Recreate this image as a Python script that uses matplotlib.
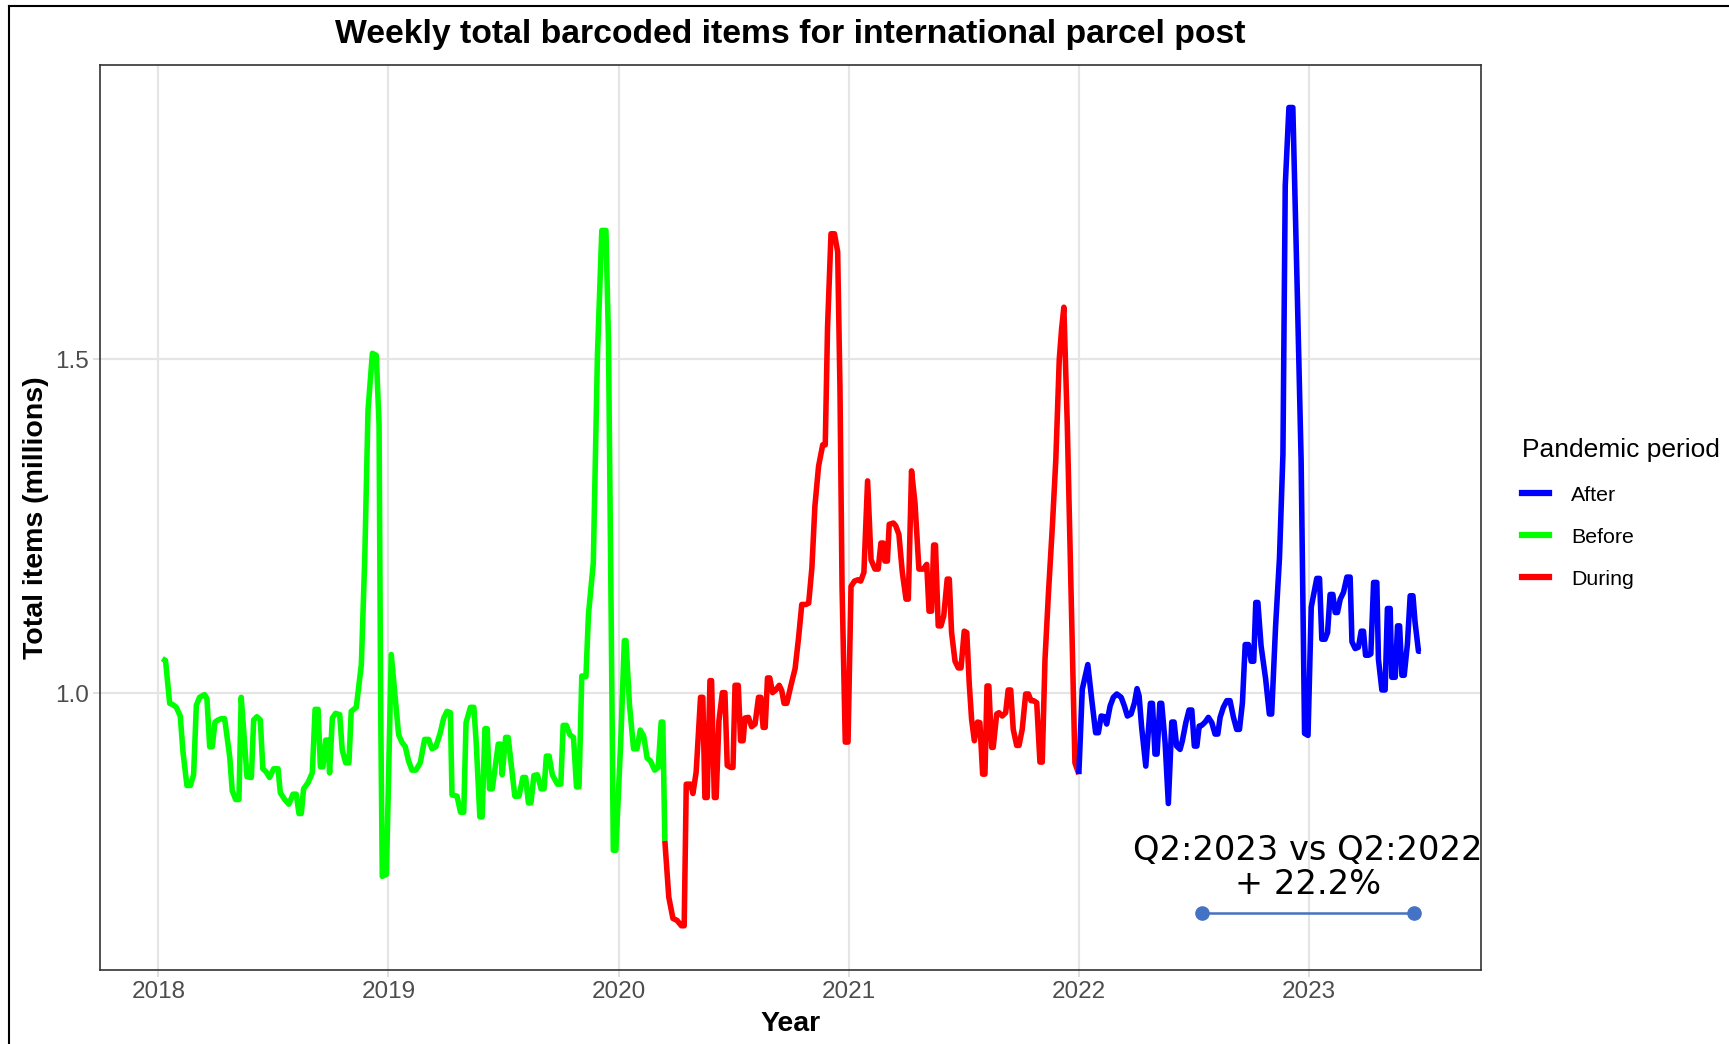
import matplotlib
matplotlib.use("Agg")
import matplotlib.pyplot as plt
from matplotlib.lines import Line2D

# weekly barcoded items (millions), x as decimal year
before_year = [
    2018.017, 2018.031, 2018.049, 2018.063, 2018.078, 2018.095, 2018.107, 2018.124, 2018.139, 2018.153,
    2018.165, 2018.179, 2018.201, 2018.211, 2018.223, 2018.234, 2018.246, 2018.259, 2018.273, 2018.288,
    2018.310, 2018.321, 2018.336, 2018.350, 2018.360, 2018.375, 2018.385, 2018.404, 2018.414, 2018.428,
    2018.443, 2018.454, 2018.469, 2018.483, 2018.501, 2018.520, 2018.530, 2018.549, 2018.567, 2018.585,
    2018.599, 2018.611, 2018.621, 2018.631, 2018.650, 2018.669, 2018.681, 2018.694, 2018.704, 2018.715,
    2018.727, 2018.737, 2018.744, 2018.756, 2018.770, 2018.788, 2018.799, 2018.814, 2018.828, 2018.838,
    2018.860, 2018.882, 2018.897, 2018.911, 2018.930, 2018.947, 2018.959, 2018.966, 2018.973, 2018.991,
    2019.012, 2019.026, 2019.044, 2019.058, 2019.073, 2019.087, 2019.102, 2019.119, 2019.138, 2019.157,
    2019.174, 2019.189, 2019.206, 2019.225, 2019.240, 2019.254, 2019.269, 2019.276, 2019.298, 2019.313,
    2019.327, 2019.337, 2019.356, 2019.371, 2019.381, 2019.397, 2019.407, 2019.419, 2019.429, 2019.439,
    2019.451, 2019.477, 2019.487, 2019.494, 2019.509, 2019.520, 2019.549, 2019.567, 2019.584, 2019.596,
    2019.608, 2019.619, 2019.632, 2019.647, 2019.663, 2019.676, 2019.686, 2019.698, 2019.712, 2019.734,
    2019.749, 2019.759, 2019.773, 2019.788, 2019.804, 2019.817, 2019.828, 2019.840, 2019.858, 2019.869,
    2019.890, 2019.908, 2019.927, 2019.945, 2019.956, 2019.968, 2019.977, 2019.988, 2020.010, 2020.025,
    2020.032, 2020.047, 2020.065, 2020.080, 2020.094, 2020.109, 2020.124, 2020.138, 2020.157, 2020.172,
    2020.185, 2020.192,
]
before_items = [
    1.052, 1.049, 0.985, 0.983, 0.979, 0.966, 0.912, 0.862, 0.862, 0.878,
    0.982, 0.994, 0.998, 0.992, 0.920, 0.920, 0.957, 0.960, 0.962, 0.962,
    0.905, 0.854, 0.841, 0.841, 0.994, 0.924, 0.875, 0.874, 0.960, 0.965,
    0.960, 0.887, 0.882, 0.874, 0.887, 0.887, 0.851, 0.841, 0.834, 0.849,
    0.849, 0.820, 0.820, 0.857, 0.866, 0.881, 0.976, 0.976, 0.890, 0.890,
    0.930, 0.930, 0.881, 0.963, 0.970, 0.968, 0.915, 0.896, 0.896, 0.973,
    0.979, 1.043, 1.204, 1.424, 1.509, 1.506, 1.402, 0.979, 0.726, 0.729,
    1.058, 1.005, 0.938, 0.927, 0.920, 0.899, 0.885, 0.885, 0.896, 0.931,
    0.931, 0.917, 0.920, 0.941, 0.963, 0.973, 0.971, 0.848, 0.846, 0.822,
    0.822, 0.956, 0.979, 0.979, 0.927, 0.815, 0.815, 0.947, 0.947, 0.857,
    0.857, 0.924, 0.924, 0.878, 0.934, 0.934, 0.846, 0.846, 0.874, 0.874,
    0.836, 0.836, 0.877, 0.878, 0.857, 0.857, 0.906, 0.906, 0.878, 0.864,
    0.864, 0.952, 0.952, 0.938, 0.934, 0.860, 0.860, 1.026, 1.025, 1.118,
    1.195, 1.506, 1.693, 1.693, 1.527, 1.104, 0.765, 0.765, 0.934, 1.079,
    1.079, 0.984, 0.917, 0.917, 0.945, 0.936, 0.903, 0.899, 0.885, 0.889,
    0.957, 0.957,
]

during_year = [
    2020.201, 2020.218, 2020.236, 2020.254, 2020.273, 2020.285, 2020.294, 2020.313, 2020.323, 2020.337,
    2020.356, 2020.366, 2020.375, 2020.385, 2020.397, 2020.404, 2020.416, 2020.424, 2020.436, 2020.451,
    2020.462, 2020.472, 2020.487, 2020.497, 2020.506, 2020.520, 2020.530, 2020.541, 2020.549, 2020.564,
    2020.578, 2020.593, 2020.608, 2020.618, 2020.628, 2020.637, 2020.647, 2020.657, 2020.669, 2020.683,
    2020.698, 2020.709, 2020.719, 2020.731, 2020.749, 2020.767, 2020.782, 2020.796, 2020.814, 2020.826,
    2020.840, 2020.853, 2020.869, 2020.887, 2020.898, 2020.908, 2020.923, 2020.938, 2020.952, 2020.962,
    2020.971, 2020.985, 2020.997, 2021.010, 2021.025, 2021.040, 2021.052, 2021.066, 2021.082, 2021.097,
    2021.114, 2021.128, 2021.140, 2021.150, 2021.157, 2021.168, 2021.176, 2021.194, 2021.204, 2021.218,
    2021.233, 2021.249, 2021.259, 2021.273, 2021.288, 2021.305, 2021.324, 2021.339, 2021.349, 2021.360,
    2021.369, 2021.377, 2021.389, 2021.401, 2021.413, 2021.428, 2021.437, 2021.447, 2021.462, 2021.476,
    2021.488, 2021.502, 2021.513, 2021.524, 2021.534, 2021.546, 2021.560, 2021.570, 2021.582, 2021.592,
    2021.601, 2021.609, 2021.621, 2021.628, 2021.643, 2021.653, 2021.667, 2021.682, 2021.693, 2021.704,
    2021.715, 2021.730, 2021.740, 2021.754, 2021.769, 2021.781, 2021.792, 2021.803, 2021.817, 2021.831,
    2021.841, 2021.853, 2021.868, 2021.885, 2021.900, 2021.915, 2021.925, 2021.935, 2021.950, 2021.983,
]
during_items = [
    0.779, 0.695, 0.663, 0.660, 0.652, 0.652, 0.864, 0.864, 0.850, 0.882,
    0.994, 0.994, 0.844, 0.844, 1.019, 1.019, 0.844, 0.844, 0.959, 1.001,
    1.001, 0.892, 0.889, 0.889, 1.012, 1.012, 0.929, 0.929, 0.963, 0.964,
    0.950, 0.954, 0.994, 0.994, 0.949, 0.949, 1.023, 1.023, 1.001, 1.005,
    1.012, 1.004, 0.985, 0.985, 1.012, 1.037, 1.083, 1.133, 1.133, 1.135,
    1.188, 1.280, 1.340, 1.372, 1.372, 1.548, 1.688, 1.688, 1.661, 1.456,
    1.160, 0.927, 0.927, 1.160, 1.168, 1.170, 1.168, 1.181, 1.318, 1.200,
    1.186, 1.186, 1.225, 1.225, 1.198, 1.198, 1.253, 1.255, 1.251, 1.238,
    1.181, 1.141, 1.141, 1.333, 1.285, 1.186, 1.186, 1.193, 1.123, 1.123,
    1.222, 1.222, 1.101, 1.101, 1.116, 1.171, 1.171, 1.091, 1.048, 1.038,
    1.038, 1.093, 1.091, 1.013, 0.961, 0.929, 0.957, 0.956, 0.879, 0.879,
    1.011, 1.011, 0.919, 0.919, 0.969, 0.971, 0.966, 0.971, 1.005, 1.005,
    0.946, 0.922, 0.922, 0.946, 0.999, 0.999, 0.989, 0.989, 0.986, 0.897,
    0.897, 1.051, 1.150, 1.250, 1.350, 1.500, 1.545, 1.578, 1.400, 0.896,
]

after_year = [
    2022.000, 2022.015, 2022.039, 2022.056, 2022.073, 2022.085, 2022.097, 2022.111, 2022.121, 2022.136,
    2022.150, 2022.165, 2022.184, 2022.198, 2022.211, 2022.227, 2022.242, 2022.253, 2022.262, 2022.273,
    2022.291, 2022.311, 2022.320, 2022.331, 2022.340, 2022.352, 2022.360, 2022.375, 2022.389, 2022.404,
    2022.414, 2022.425, 2022.440, 2022.450, 2022.465, 2022.479, 2022.491, 2022.502, 2022.513, 2022.523,
    2022.534, 2022.549, 2022.563, 2022.578, 2022.592, 2022.604, 2022.614, 2022.628, 2022.643, 2022.657,
    2022.672, 2022.686, 2022.698, 2022.711, 2022.723, 2022.737, 2022.749, 2022.760, 2022.769, 2022.778,
    2022.792, 2022.812, 2022.828, 2022.838, 2022.855, 2022.872, 2022.887, 2022.897, 2022.913, 2022.930,
    2022.948, 2022.966, 2022.981, 2022.996, 2023.010, 2023.034, 2023.046, 2023.056, 2023.070, 2023.081,
    2023.092, 2023.104, 2023.114, 2023.124, 2023.136, 2023.150, 2023.165, 2023.179, 2023.187, 2023.201,
    2023.215, 2023.227, 2023.237, 2023.246, 2023.259, 2023.269, 2023.281, 2023.295, 2023.302, 2023.317,
    2023.331, 2023.341, 2023.353, 2023.360, 2023.375, 2023.385, 2023.394, 2023.404, 2023.414, 2023.428,
    2023.440, 2023.452, 2023.461, 2023.476, 2023.486,
]
after_items = [
    0.879, 1.006, 1.043, 0.991, 0.941, 0.941, 0.966, 0.965, 0.954, 0.981,
    0.994, 0.999, 0.994, 0.981, 0.966, 0.969, 0.986, 1.007, 0.996, 0.949,
    0.891, 0.985, 0.985, 0.909, 0.909, 0.985, 0.985, 0.926, 0.835, 0.957,
    0.957, 0.921, 0.916, 0.929, 0.956, 0.975, 0.975, 0.921, 0.921, 0.951,
    0.952, 0.957, 0.964, 0.956, 0.939, 0.939, 0.964, 0.979, 0.989, 0.989,
    0.964, 0.946, 0.946, 0.986, 1.073, 1.073, 1.048, 1.048, 1.136, 1.136,
    1.071, 1.021, 0.969, 0.969, 1.100, 1.203, 1.358, 1.760, 1.877, 1.877,
    1.620, 1.350, 0.940, 0.937, 1.129, 1.172, 1.172, 1.081, 1.081, 1.091,
    1.148, 1.148, 1.121, 1.121, 1.141, 1.151, 1.174, 1.174, 1.077, 1.067,
    1.069, 1.093, 1.093, 1.057, 1.057, 1.059, 1.166, 1.166, 1.051, 1.005,
    1.005, 1.127, 1.127, 1.024, 1.024, 1.101, 1.101, 1.027, 1.027, 1.074,
    1.146, 1.146, 1.107, 1.063, 1.063,
]

period_names = ["After", "Before", "During"]
period_colors = {"After": "#0000FF", "Before": "#00FF00", "During": "#FF0000"}

year_ticks = [2018, 2019, 2020, 2021, 2022, 2023]
item_ticks = [1.0, 1.5]

# Q2 comparison annotation
compare_x = [2022.535, 2023.455]
compare_y = [0.6716, 0.6716]
compare_text = "Q2:2023 vs Q2:2022\n+ 22.2%"

plt.rcParams["font.family"] = ["Liberation Sans", "DejaVu Sans"]

fig = plt.figure(figsize=(17.29, 10.44), dpi=100)
ax = fig.add_axes([0.0578, 0.0709, 0.7988, 0.8668])

series = {
    "Before": (before_year, before_items),
    "During": (during_year, during_items),
    "After": (after_year, after_items),
}
order = ["Before", "During", "After"]
for i, name in enumerate(order):
    xs, ys = list(series[name][0]), list(series[name][1])
    # segment colour follows its starting point, so join to the next period
    if i + 1 < len(order):
        nx, ny = series[order[i + 1]]
        xs.append(nx[0])
        ys.append(ny[0])
    ax.plot(xs, ys, color=period_colors[name], lw=4.0,
            solid_joinstyle="round", solid_capstyle="butt", zorder=3)

ax.plot(compare_x, compare_y, color="#4472C4", lw=1.8, marker="o",
        markersize=9.5, zorder=4)
ax.text(sum(compare_x) / 2, 0.739, compare_text, ha="center", va="center",
        fontsize=24.2, family="DejaVu Sans", linespacing=1.03, zorder=5)

ax.set_xlim(2017.746, 2023.748)
ax.set_ylim(0.5858, 1.9406)
ax.set_xticks(year_ticks)
ax.set_xticklabels([str(y) for y in year_ticks])
ax.set_yticks(item_ticks)
ax.set_yticklabels(["%.1f" % v for v in item_ticks])
ax.grid(True, color="#E5E5E5", lw=1.6, zorder=0)
ax.set_axisbelow(True)
ax.tick_params(axis="both", length=5, width=1.4, color="#E0E0E0",
               labelsize=17.5, labelcolor="#4D4D4D", pad=3)
for s in ax.spines.values():
    s.set_color("#333333")
    s.set_linewidth(1.2)

ax.set_xlabel("Year", fontsize=20.5, fontweight="bold", labelpad=6)
ax.set_ylabel("Total items (millions)", fontsize=20.5, fontweight="bold", labelpad=4)
ax.set_title("Weekly total barcoded items for international parcel post",
             fontsize=24.3, fontweight="bold", pad=16)

handles = [Line2D([0], [0], color=period_colors[n], lw=4.5) for n in period_names]
fig.legend(handles, period_names, title="Pandemic period", loc="upper left",
           bbox_to_anchor=(0.880, 0.580), frameon=False, fontsize=15.4,
           title_fontsize=19, alignment="left", handlelength=1.27,
           handletextpad=1.05, labelspacing=1.08, borderaxespad=0, borderpad=0)

# outer border of the original export
top = 1 - 5.5 / 1044
left = 9 / 1729
fig.add_artist(Line2D([left, left], [0, top], color="black", lw=1.5))
fig.add_artist(Line2D([left, 1], [top, top], color="black", lw=1.5))

fig.savefig("out.png", dpi=100)
